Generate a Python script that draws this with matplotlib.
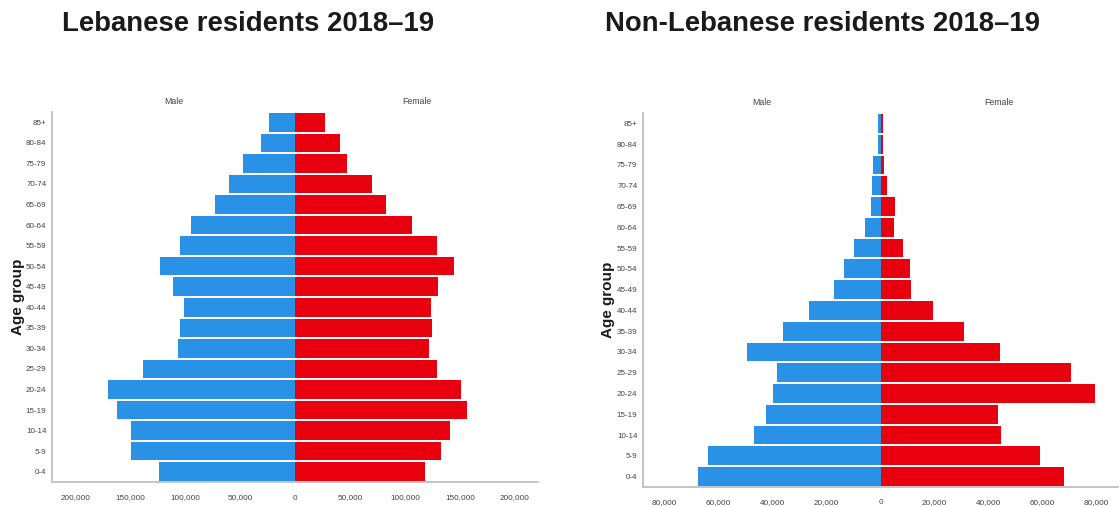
import matplotlib
matplotlib.use("Agg")
import matplotlib.pyplot as plt
from matplotlib.ticker import FuncFormatter

ages = ['0-4', '5-9', '10-14', '15-19', '20-24', '25-29', '30-34', '35-39', '40-44',
        '45-49', '50-54', '55-59', '60-64', '65-69', '70-74', '75-79', '80-84', '85+']
leb_male = [124000, 149000, 149000, 162000, 170000, 138000, 106000, 105000, 101000,
            111000, 123000, 105000, 95000, 73000, 60000, 47000, 31000, 24000]
leb_female = [118000, 133000, 141000, 156000, 151000, 129000, 122000, 125000, 124000,
              130000, 145000, 129000, 106000, 83000, 70000, 47000, 41000, 27000]
non_male = [67600, 64000, 47000, 42500, 40000, 38500, 49500, 36300, 26500,
            17300, 13700, 10000, 5900, 3500, 3300, 2600, 1100, 900]
non_female = [68100, 59000, 44700, 43600, 79400, 70600, 44400, 31100, 19500,
              11200, 11100, 8300, 4900, 5300, 2500, 1200, 1100, 900]

leb_ticks = [-200000, -150000, -100000, -50000, 0, 50000, 100000, 150000, 200000]
non_ticks = [-80000, -60000, -40000, -20000, 0, 20000, 40000, 60000, 80000]

titles = ['Lebanese residents 2018\u201319', 'Non-Lebanese residents 2018\u201319']

BLUE = '#2a92e6'
RED = '#e8000f'
SMALL = ['Liberation Sans', 'DejaVu Sans']

fig = plt.figure(figsize=(11.2, 5.07), dpi=100)
W, H = 1120, 507

def px_axes(l, t, r, b):
    return fig.add_axes([l / W, 1 - b / H, (r - l) / W, (b - t) / H])

ax1 = px_axes(52, 112, 538, 482)
ax2 = px_axes(643, 113, 1118, 487)

fmt = FuncFormatter(lambda v, p: f"{abs(int(v)):,}")

def draw(ax, male, female, ticks, lim, title, tx, ylx, axtop, axbot):
    y = list(range(len(ages)))
    ax.barh(y, [-m for m in male], height=0.9, color=BLUE, linewidth=0)
    ax.barh(y, female, height=0.9, color=RED, linewidth=0)
    ax.set_ylim(-0.5, len(ages) - 0.5)
    ax.set_xlim(-lim, lim)
    ax.set_yticks(y)
    ax.set_yticklabels(ages, family=SMALL, fontsize=5.8, color='#444444')
    ax.set_xticks(ticks)
    ax.xaxis.set_major_formatter(fmt)
    for lab in ax.get_xticklabels():
        lab.set_family(SMALL)
        lab.set_fontsize(5.9)
        lab.set_color('#444444')
    ax.tick_params(axis='both', length=0)
    ax.tick_params(axis='x', pad=9)
    ax.tick_params(axis='y', pad=4)
    for s in ['top', 'right']:
        ax.spines[s].set_visible(False)
    for s in ['left', 'bottom']:
        ax.spines[s].set_color('#c0c0c0')
        ax.spines[s].set_linewidth(1.3)
    h = axbot - axtop
    ax.text(0.25, 1.0 + 10.5 / h, 'Male', transform=ax.transAxes, ha='center', va='center',
            family=SMALL, fontsize=6.3, color='#444444')
    ax.text(0.75, 1.0 + 10.5 / h, 'Female', transform=ax.transAxes, ha='center', va='center',
            family=SMALL, fontsize=6.3, color='#444444')
    fig.text(tx / W, 1 - 31 / H, title, ha='left', va='baseline', fontsize=19.8,
             fontweight='bold', family=['Liberation Sans', 'DejaVu Sans'], color='#1a1a1a')
    fig.text(ylx / W, 1 - ((axtop + axbot) / 2) / H, 'Age group', rotation=90,
             ha='center', va='center', fontsize=11, fontweight='bold',
             family=['Liberation Sans', 'DejaVu Sans'], color='#1a1a1a')

draw(ax1, leb_male, leb_female, leb_ticks, 221000, titles[0], 62, 18, 112, 482)
draw(ax2, non_male, non_female, non_ticks, 88000, titles[1], 605, 608, 113, 487)

fig.savefig('out.png', dpi=100, facecolor='white')
